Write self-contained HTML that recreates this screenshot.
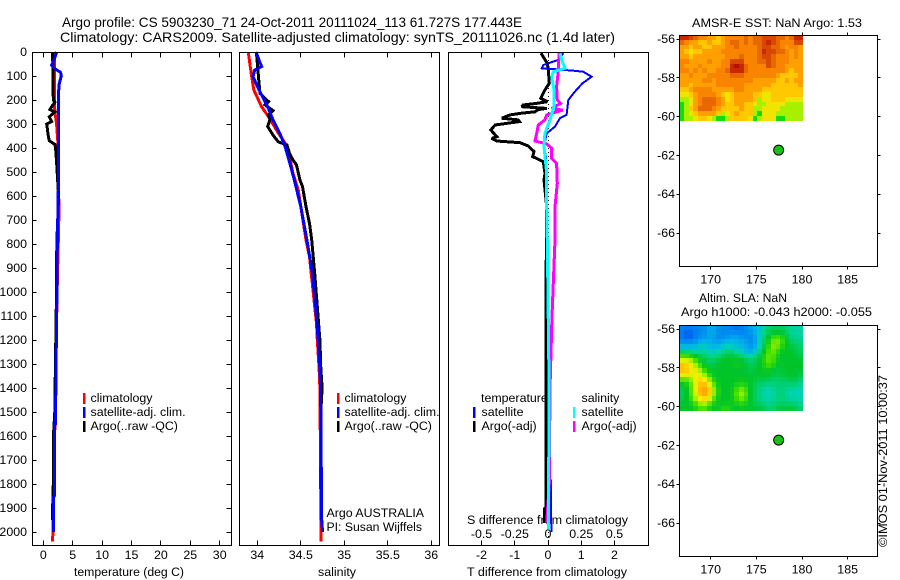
<!DOCTYPE html>
<html lang="en">
<head>
<meta charset="utf-8">
<title>Argo profile</title>
<style>
html,body{margin:0;padding:0;background:#fff;width:900px;height:580px;overflow:hidden}
svg{display:block}
text{font-family:"Liberation Sans",sans-serif;font-size:12.4px;fill:#000}
.title{font-size:14px}
</style>
</head>
<body>
<svg id="fig" xmlns="http://www.w3.org/2000/svg" width="900" height="580" viewBox="0 0 900 580">
<text class="title" x="62" y="27" textLength="460" lengthAdjust="spacingAndGlyphs">Argo profile: CS 5903230_71 24-Oct-2011 20111024_113 61.727S 177.443E</text>
<text class="title" x="60" y="42" textLength="555" lengthAdjust="spacingAndGlyphs">Climatology: CARS2009. Satellite-adjusted climatology: synTS_20111026.nc (1.4d later)</text>
<text x="74" y="576" textLength="110" lengthAdjust="spacingAndGlyphs">temperature (deg C)</text>
<text x="318" y="576" textLength="38" lengthAdjust="spacingAndGlyphs">salinity</text>
<text x="467" y="576" textLength="160" lengthAdjust="spacingAndGlyphs">T difference from climatology</text>
<text x="467" y="524" textLength="161" lengthAdjust="spacingAndGlyphs">S difference from climatology</text>
<text x="326.5" y="517" textLength="97.5" lengthAdjust="spacingAndGlyphs">Argo AUSTRALIA</text>
<text x="326.5" y="531" textLength="95.5" lengthAdjust="spacingAndGlyphs">PI: Susan Wijffels</text>
<text x="692" y="27" textLength="170" lengthAdjust="spacingAndGlyphs">AMSR-E SST: NaN Argo: 1.53</text>
<text x="699" y="302" textLength="88" lengthAdjust="spacingAndGlyphs">Altim. SLA: NaN</text>
<text x="681" y="316" textLength="191" lengthAdjust="spacingAndGlyphs">Argo h1000: -0.043 h2000: -0.055</text>
<text transform="translate(887,547) rotate(-90)" textLength="172" lengthAdjust="spacingAndGlyphs">©IMOS 01-Nov-2011 10:00:37</text>
</svg>
<script>
// ---- tick labels ----
const depthTicks = ["0","100","200","300","400","500","600","700","800","900","1000","1100","1200","1300","1400","1500","1600","1700","1800","1900","2000"];
const tempTicks = ["0","5","10","15","20","25","30"];
const salTicks = ["34","34.5","35","35.5","36"];
const tDiffTicks = ["-2","-1","0","1","2"];
const sDiffTicks = ["-0.5","-0.25","0","0.25","0.5"];
const lonTicks = ["170","175","180","185"];
const latTicks = ["-56","-58","-60","-62","-64","-66"];

// ---- temperature panel ----
const climTempDepth = [0,200,250,300,400,680,1000,1500,2000,2040];
const climTemp = [1.87,1.87,1.98,2.27,2.55,2.66,2.35,2.0,1.62,1.6];
const argoTempDepth = [0,100,200,210,225,240,250,270,290,300,350,370,385,400,460,600,800,1000,1400,1500,1600,1800,1950];
const argoTemp = [1.59,1.65,1.7,1.98,1.5,1.13,1.98,1.02,1.42,0.57,0.85,1.02,1.98,2.1,2.27,2.6,2.3,2.25,2.0,1.95,1.72,1.7,1.53];
const satTempDepth = [0,30,55,70,85,100,130,180,300,500,800,1000,1400,1550,1552,1850,1855,2000];
const satTemp = [2.27,1.87,1.42,1.98,2.95,3.06,2.72,2.55,2.6,2.6,2.38,2.32,2.12,2.1,1.9,1.88,1.72,1.7];

// ---- salinity panel ----
const climSalDepth = [0,89,158,228,276,325,380,436,505,575,644,783,853,922,992,1061,1130,1200,1318,1400,2040];
const climSal = [33.897,33.93,33.96,34.05,34.14,34.22,34.32,34.37,34.41,34.47,34.5,34.56,34.6,34.62,34.64,34.66,34.68,34.69,34.71,34.72,34.735];
const argoSalDepth = [0,89,172,207,221,244,262,283,311,346,374,387,422,450,471,533,561,644,714,783,922,1061,1200,1318,1400,1500,1950];
const argoSal = [33.99,34.01,34.03,34.13,34.09,34.18,34.13,34.145,34.12,34.18,34.24,34.34,34.37,34.41,34.45,34.49,34.52,34.56,34.6,34.625,34.66,34.69,34.72,34.73,34.745,34.73,34.73];
const satSalDepth = [0,33,61,75,103,158,228,283,339,394,464,533,644,783,922,1061,1200,1318,1400,1950,2000];
const satSal = [33.985,34.02,34.05,33.97,33.95,34.02,34.12,34.18,34.26,34.32,34.375,34.425,34.5,34.57,34.635,34.67,34.7,34.72,34.728,34.74,34.75];

// ---- difference panel ----
const tArgoDepth = [5,47,75,130,158,193,207,214,221,228,235,240,249,255,262,276,283,290,304,325,353,360,371,378,392,415,436,457,506,533,644,1000,1900,1902,1963];
const tArgoDiff = [-0.21,-0.02,0.01,0.04,-0.09,-0.22,-0.02,-0.35,-0.75,-0.79,-0.04,-0.3,-0.39,-0.8,-1.14,-1.39,-0.9,-0.86,-1.59,-1.72,-1.54,-1.69,-1.54,-0.84,-0.59,-0.42,-0.46,-0.14,-0.09,-0.12,-0.04,-0.06,-0.06,-0.1,-0.1];
const tSatDepth = [5,33,54,68,72,78,82,103,130,165,200,262,276,311,339,394,436,644,1000,1780,1785,2000];
const tSatDiff = [0.46,0.31,-0.14,-0.19,0.26,0.76,1.06,1.31,1.04,0.81,0.61,0.56,0.36,0.21,-0.04,-0.12,-0.06,-0.06,0.0,0.03,0.09,0.1];
const sArgoDepth = [5,75,144,200,214,235,242,262,283,304,339,371,383,401,443,464,547,644,783,1100,1400,1800,1960];
const sArgoDiff = [0.083,0.078,0.065,0.07,0.095,0.028,0.11,-0.01,-0.023,-0.073,-0.085,-0.098,-0.01,0.028,0.028,0.065,0.07,0.053,0.053,0.03,0.015,0.01,-0.01];
const sSatDepth = [5,33,68,82,103,158,228,283,339,394,505,644,783,1400,1990];
const sSatDiff = [0.09,0.103,0.128,0.04,0.028,0.045,0.045,0.015,-0.023,-0.03,-0.01,-0.01,-0.005,0.008,0.003];

// ---- map grids (colour-level values) ----
const sstGrid = [
[8,8,7,6,5,5,4,4,3,4,5,5,5,5,6,5,6,6,7,7,7,6,6,5,6,8,8],
[6,5,4,4,3,3,4,3,3,4,5,6,6,5,6,5,6,6,7,8,7,6,5,5,5,7,7],
[4,4,3,4,4,3,3,4,4,4,5,5,6,5,5,5,5,6,7,7,6,6,5,4,5,5,4],
[4,3,2,3,3,4,4,4,4,5,5,5,5,5,5,5,5,6,8,7,7,6,6,5,4,5,4],
[4,4,3,4,4,4,4,4,4,4,5,5,5,6,5,5,5,6,7,7,6,5,5,5,4,5,4],
[5,5,4,4,4,4,5,4,4,5,5,7,7,7,5,5,5,6,6,7,6,5,5,5,4,4,4],
[5,4,4,4,5,4,4,4,4,5,5,8,9,8,6,5,5,5,5,7,6,5,5,4,4,4,4],
[5,5,4,5,4,5,4,4,5,5,6,8,8,8,6,5,5,5,5,5,5,5,5,4,3,4,4],
[4,4,5,4,4,4,5,5,5,5,5,6,6,6,5,5,5,5,5,5,5,4,3,3,3,3,4],
[4,4,4,4,4,5,5,4,5,5,5,5,5,5,5,5,4,4,4,4,4,3,3,4,3,4,4],
[4,4,3,4,4,4,4,4,5,5,5,5,5,5,4,4,4,4,4,4,3,3,3,3,3,3,4],
[3,3,4,5,5,5,5,4,4,4,4,4,5,5,4,4,4,4,3,3,3,3,3,3,3,3,3],
[2,2,3,4,5,5,5,5,4,3,2,3,4,4,4,4,3,3,2,2,3,3,3,3,3,3,3],
[1,1,2,4,5,6,6,6,5,4,2,3,4,4,4,4,3,1,2,2,3,3,3,2,2,2,2],
[0,1,2,4,5,6,6,6,5,4,3,3,4,4,3,3,2,1,1,2,2,2,2,1,1,1,1],
[0,1,3,4,6,6,6,5,4,3,3,3,3,4,3,3,1,1,2,2,2,2,1,1,1,1,1],
[0,1,2,3,4,4,4,4,3,1,2,3,4,3,3,3,1,0,2,2,2,1,1,1,1,1,1],
[0,1,1,2,3,3,2,1,0,0,1,3,3,3,3,2,0,1,2,2,2,0,0,1,1,1,1]
];
const slaGrid = [
[1,1,1,1,1,1,2,2,1,1,1,1,0,1,1,2,2,2,3,4,4,4,4,4,3,3,3],
[1,0,0,1,1,1,2,2,1,1,1,1,1,1,1,1,2,3,3,5,5,5,5,4,3,4,3],
[1,0,0,1,1,1,2,1,1,1,1,2,2,1,1,1,1,3,4,5,6,6,6,4,4,3,3],
[1,1,1,1,2,2,2,2,1,2,2,2,2,2,2,1,1,3,4,5,7,7,6,5,4,4,4],
[2,2,2,2,3,3,2,2,2,3,3,3,2,2,2,1,2,3,4,6,7,7,5,5,5,4,4],
[4,4,3,3,3,3,3,2,3,3,4,4,3,3,2,1,2,4,5,6,7,5,5,5,5,5,4],
[6,6,6,5,5,4,4,3,4,5,5,5,4,4,3,3,4,5,5,7,6,5,5,5,5,5,4],
[8,8,7,6,5,5,4,4,5,5,5,5,6,5,5,4,4,5,5,7,6,5,5,5,5,5,5],
[9,9,8,7,6,5,4,5,5,5,5,5,5,5,5,4,5,5,5,7,5,5,5,5,5,5,5],
[9,9,8,8,7,6,5,5,5,5,5,5,5,5,5,4,5,5,5,5,5,4,5,5,5,5,5],
[8,8,8,8,8,7,5,5,5,5,5,5,5,5,5,5,5,5,5,5,4,5,5,5,5,5,4],
[6,6,6,8,9,8,7,5,5,5,5,5,5,5,5,5,5,4,5,5,4,4,4,4,5,5,4],
[5,5,6,8,9,9,8,6,5,5,5,5,5,6,5,5,4,4,4,3,4,4,4,4,4,4,3],
[4,5,6,8,9,10,9,7,5,5,5,5,6,7,6,5,4,4,3,3,3,4,4,3,3,3,3],
[4,5,6,8,9,10,9,7,5,5,5,5,6,8,6,5,4,4,3,3,3,4,4,3,3,3,3],
[4,5,6,7,8,9,8,6,5,5,5,5,6,7,6,5,4,4,3,3,3,4,4,3,3,3,3],
[5,5,5,6,7,7,6,5,5,5,5,5,5,6,5,5,4,4,4,3,4,4,4,4,4,4,3],
[5,5,5,5,6,6,5,5,5,6,6,5,5,5,5,5,5,5,5,4,4,5,5,5,5,5,4]
];
const floatLon = [177.443];
const floatLat = [-61.727];

const sstColours = ["#10dc10","#a8f000","#f0e400","#ffc800","#ffa000","#f88400","#e86800","#d84800","#c82800","#b01000"];
const slaColours = ["#0050f0","#0088f0","#00b4e8","#00d4b0","#00d070","#00c428","#40e000","#b0f000","#f8f000","#ffb400","#ff8c00"];

const NS = "http://www.w3.org/2000/svg";
const fig = document.getElementById("fig");

// ---- axis functions ----
const yDepth = p => 52 + p * 0.24;
const xTemp = t => 43.3 + t * 5.88;
const xSal = s => 257.3 + (s - 34) * 87;
const xTDiff = t => 548 + t * 33.25;
const xSDiff = s => 548 + s * 133;
const xLon = l => 710.7 + (l - 170) * 9.13;
const yLat = (l, y56) => y56 + (-56 - l) * 19.4;

function make(tag, props, parent) {
  const el = document.createElementNS(NS, tag);
  for (const k in props) el.setAttribute(k, props[k]);
  (parent || fig).appendChild(el);
  return el;
}
function crisp(x) { return Math.round(x - 0.5) + 0.5; }

function drawSeries(name, depths, values, xf, colour, width) {
  const pts = depths.map((d, i) => xf(values[i]).toFixed(1) + "," + yDepth(d).toFixed(1)).join(" ");
  const el = make("polyline", {points: pts, fill: "none", stroke: colour, "stroke-width": width, "stroke-linejoin": "miter", "stroke-miterlimit": 2, "shape-rendering": "crispEdges"});
  
  
}
function drawFrame(name, x0, y0, x1, y1) {
  const el = make("rect", {x: x0, y: y0, width: x1 - x0, height: y1 - y0, fill: "none", stroke: "#000", "stroke-width": 1, "shape-rendering": "crispEdges"});
  
  
}
function tick(x1, y1, x2, y2) {
  const el = make("line", {x1: x1, y1: y1, x2: x2, y2: y2, stroke: "#000", "stroke-width": 1, "shape-rendering": "crispEdges"});
  
  
}
function label(str, x, y, anchor) {
  const el = make("text", {x: x, y: y, "text-anchor": anchor});
  el.textContent = str;
  
  
}
function xAxis(ticks, xf, top, bottom, labelY) {
  ticks.forEach(t => {
    const x = crisp(xf(parseFloat(t)));
    tick(x, top, x, top + 5);
    tick(x, bottom - 5, x, bottom);
    label(t, xf(parseFloat(t)), labelY, "middle");
  });
}
function legendBar(x, y, colour) {
  const el = make("rect", {x: x, y: y, width: 2.5, height: 11, fill: colour, "shape-rendering": "crispEdges"});
  
  
}
function legendText(str, x, y) {
  const el = make("text", {x: x, y: y});
  el.textContent = str;
  
  
}
// colour for a fractional level, blending neighbouring palette entries
function levelColour(colours, v) {
  const i = Math.max(0, Math.min(colours.length - 1, Math.floor(v)));
  const j = Math.min(colours.length - 1, i + 1);
  const f = Math.max(0, Math.min(1, v - i));
  const ch = (c, k) => parseInt(c.substr(1 + 2 * k, 2), 16);
  return "rgb(" + [0, 1, 2].map(k => Math.round(ch(colours[i], k) * (1 - f) + ch(colours[j], k) * f)).join(",") + ")";
}
// light display smoothing, the altimetry field is a smooth product
function smoothed(grid, r, c) {
  let sum = 0, weight = 0;
  for (let dr = -1; dr <= 1; dr++) for (let dc = -1; dc <= 1; dc++) {
    if (!grid[r + dr] || grid[r + dr][c + dc] === undefined) continue;
    const w = (dr === 0 ? 2 : 1) * (dc === 0 ? 2 : 1);
    sum += grid[r + dr][c + dc] * w;
    weight += w;
  }
  return sum / weight;
}
function drawHeat(name, grid, colours, y56, smooth) {
  const lonStart = 166.6, lonStep = 0.5, latStart = -55.8, latStep = 0.245;
  grid.forEach((row, r) => row.forEach((v, c) => {
    const x0 = Math.round(xLon(lonStart + c * lonStep)), x1 = Math.round(xLon(lonStart + (c + 1) * lonStep));
    const y0 = Math.round(yLat(latStart - r * latStep, y56)), y1 = Math.round(yLat(latStart - (r + 1) * latStep, y56));
    const level = smooth ? smoothed(grid, r, c) : v;
    const el = make("rect", {x: Math.max(x0, 680), y: y0, width: x1 - Math.max(x0, 680), height: y1 - y0, fill: levelColour(colours, level), "shape-rendering": "crispEdges"});
    
    
  }));
}

// ---- panel 1: temperature ----
drawSeries('climatology-temperature-line', climTempDepth, climTemp, xTemp, "#f00", 3);
drawSeries('argo-temperature-line', argoTempDepth, argoTemp, xTemp, "#000", 3);
drawSeries('satellite-temperature-line', satTempDepth, satTemp, xTemp, "#00f", 3);
drawFrame('temperature-panel-frame', 32.5, 52.5, 231.5, 545.5);
xAxis(tempTicks, xTemp, 52.5, 545.5, 559);
depthTicks.forEach(d => {
  const y = crisp(yDepth(parseFloat(d)));
  tick(32.5, y, 36.5, y);
  tick(226.5, y, 231.5, y);
  label(d, 27, yDepth(parseFloat(d)) + 4, "end");
});
legendBar(83, 393, "#f00");
legendBar(83, 407, "#00f");
legendBar(83, 421, "#000");
legendText("climatology", 90.5, 402);
legendText("satellite-adj. clim.", 90.5, 416);
legendText("Argo(..raw -QC)", 90.5, 430);

// ---- panel 2: salinity ----
drawSeries('climatology-salinity-line', climSalDepth, climSal, xSal, "#f00", 3);
drawSeries('argo-salinity-line', argoSalDepth, argoSal, xSal, "#000", 3);
drawSeries('satellite-salinity-line', satSalDepth, satSal, xSal, "#00f", 3);
drawFrame('salinity-panel-frame', 239.5, 52.5, 439.5, 545.5);
xAxis(salTicks, xSal, 52.5, 545.5, 559);
legendBar(337, 393, "#f00");
legendBar(337, 407, "#00f");
legendBar(337, 421, "#000");
legendText("climatology", 344.5, 402);
legendText("satellite-adj. clim.", 344.5, 416);
legendText("Argo(..raw -QC)", 344.5, 430);

// ---- panel 3: differences ----
const zero = make("line", {x1: 548.5, y1: 52, x2: 548.5, y2: 545, stroke: "#000", "stroke-width": 1, "stroke-dasharray": "1 3", "shape-rendering": "crispEdges"});


drawSeries('argo-temperature-difference-line', tArgoDepth, tArgoDiff, xTDiff, "#000", 3);
drawSeries('satellite-temperature-difference-line', tSatDepth, tSatDiff, xTDiff, "#00f", 2);
drawSeries('argo-salinity-difference-line', sArgoDepth, sArgoDiff, xSDiff, "#f0f", 3);
drawSeries('satellite-salinity-difference-line', sSatDepth, sSatDiff, xSDiff, "#0ff", 3);
drawFrame('difference-panel-frame', 448.5, 52.5, 648.5, 545.5);
xAxis(tDiffTicks, xTDiff, 52.5, 545.5, 559);
sDiffTicks.forEach(s => label(s, xSDiff(parseFloat(s)), 538, "middle"));
legendText("temperature", 481, 402);
legendBar(473, 407, "#00f");
legendBar(473, 421, "#000");
legendText("satellite", 481.5, 416);
legendText("Argo(-adj)", 481.5, 430);
legendText("salinity", 581.5, 402);
legendBar(573, 407, "#0ff");
legendBar(573, 421, "#f0f");
legendText("satellite", 581.5, 416);
legendText("Argo(-adj)", 581.5, 430);

// ---- maps ----
function drawMap(prefix, grid, colours, top, bottom, y56, smooth) {
  drawHeat(prefix + '-heatmap-cell', grid, colours, y56, smooth);
  drawFrame(prefix + '-map-frame', 679.5, top, 877.5, bottom);
  lonTicks.forEach(l => {
    const x = crisp(xLon(parseFloat(l)));
    tick(x, top - 3, x, top);
    tick(x, bottom, x, bottom + 3);
    label(l, xLon(parseFloat(l)), bottom + 17, "middle");
  });
  latTicks.forEach(l => {
    const y = crisp(yLat(parseFloat(l), y56));
    tick(676.5, y, 679.5, y);
    tick(877.5, y, 880.5, y);
    label(l, 675, yLat(parseFloat(l), y56) + 4, "end");
  });
  floatLon.forEach((lon, i) => {
    const dot = make("circle", {cx: xLon(lon), cy: yLat(floatLat[i], y56), r: 5, fill: "#18c018", stroke: "#000", "stroke-width": 1});
    
    
  });
}
drawMap('sst', sstGrid, sstColours, 35.5, 266.5, 39, false);
drawMap('sla', slaGrid, slaColours, 325.5, 556.5, 329, true);
</script>
</body>
</html>
